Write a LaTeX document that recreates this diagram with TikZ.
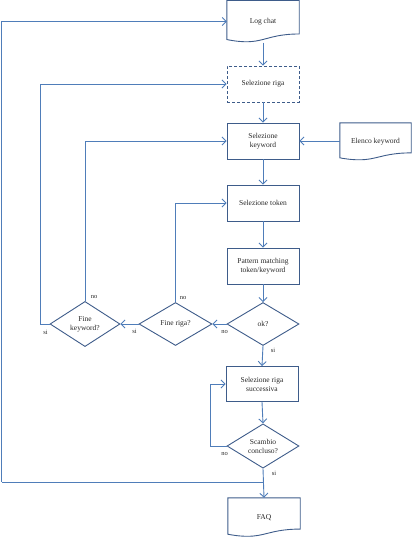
\documentclass[tikz,border=0pt]{standalone}
\usepackage{fontspec}
\setmainfont{Liberation Serif}
\usetikzlibrary{shapes.geometric,arrows.meta,calc}
\definecolor{lineblue}{RGB}{79,125,185}
\definecolor{boxblue}{RGB}{62,92,138}
\definecolor{txt}{RGB}{40,40,40}
\tikzset{
  box/.style={draw=boxblue, line width=0.9pt, rectangle, minimum width=72pt, minimum height=36pt, inner sep=1pt, align=center, font=\fontsize{7.5}{9}\selectfont, text=txt},
  dec/.style={draw=boxblue, line width=0.9pt, diamond, minimum width=72pt, minimum height=43pt, inner sep=0pt, align=center, font=\fontsize{7.5}{9}\selectfont, text=txt},
  docnode/.style={rectangle, inner sep=1pt, align=center, font=\fontsize{7.5}{9}\selectfont, text=txt},
  docline/.style={draw=boxblue, line width=0.9pt},
  conn/.style={draw=lineblue, line width=0.9pt, -{Straight Barb[length=4pt,width=8pt]}},
  plain/.style={draw=lineblue, line width=0.9pt},
  lbl/.style={font=\fontsize{6.5}{7}\selectfont, text=txt, inner sep=0pt}
}
\newcommand\docshape[2]{% name, height
  \draw[docline] (#1.north west) -- (#1.north east)
    -- ($(#1.north east)+(0,0.802*#2)$)
    .. controls ($(#1.north west)!0.5!(#1.north east)+(0,0.802*#2)$) and ($(#1.north west)!0.5!(#1.north east)+(0,1.107*#2)$)
    .. ($(#1.north west)+(0,0.934*#2)$) -- cycle;}
\begin{document}
\begin{tikzpicture}[x=1pt,y=-1pt]
\useasboundingbox (0,0) rectangle (413,542);
% document shapes
\node[docnode, minimum width=72pt, minimum height=42pt] (log) at (263,21.5) {\raisebox{2pt}{Log chat}};
\docshape{log}{42}
\node[docnode, minimum width=71pt, minimum height=37.5pt] (elenco) at (375.5,141.75) {\raisebox{2pt}{Elenco keyword}};
\docshape{elenco}{37.5}
\node[docnode, minimum width=72pt, minimum height=39pt] (faq) at (264,517.5) {FAQ};
\docshape{faq}{39}
% process boxes
\node[box, dash pattern=on 3pt off 2pt] (riga) at (263,84) {Selezione riga};
\node[box] (kw) at (263,141) {Selezione\\keyword};
\node[box] (token) at (263,203) {Selezione token};
\node[box] (pattern) at (263,266) {Pattern matching\\token/keyword};
\node[dec] (ok) at (263,324) {ok?};
\node[dec, minimum width=73pt] (fr) at (175.5,324) {Fine riga?};
\node[dec, minimum width=70pt] (fk) at (85,324) {Fine\\keyword?};
\node[box, minimum height=35pt] (succ) at (262,384) {Selezione riga\\successiva};
\node[dec, minimum height=44pt] (sc) at (263,446) {Scambio\\concluso?};
\coordinate (j) at (263,482);
\coordinate (c1) at (1.5,482);
% connectors
\draw[conn] (log.south) -- (riga.north);
\draw[conn] (riga.south) -- (kw.north);
\draw[conn] (elenco.west |- kw.east) -- (kw.east);
\draw[conn] (kw.south) -- (token.north);
\draw[conn] (token.south) -- (pattern.north);
\draw[conn] (pattern.south) -- (ok.north);
\draw[conn] (ok.west) -- (fr.east);
\draw[conn] (fr.west) -- (fk.east);
\draw[conn] (fr.north) |- (token.west);
\draw[conn] (fk.north) |- (kw.west);
\draw[conn] (fk.west) -- ++(-9,0) |- (riga.west);
\draw[conn] (ok.south) -- (succ.north);
\draw[conn] (succ.south) -- (sc.north);
\draw[conn] (sc.west) -- ++(-16,0) |- (succ.west);
\draw[conn] (sc.south) -- (faq.north);
\draw[plain] (j) -- (c1);
\draw[conn] (c1) |- (log.west);
% labels
\node[lbl] at ($(ok.west)+(-2,8)$) {no};
\node[lbl] at ($(fr.west)+(-4,7)$) {si};
\node[lbl] at ($(fr.north)+(7.5,-4)$) {no};
\node[lbl] at ($(fk.north)+(9,-4)$) {no};
\node[lbl] at ($(fk.west)+(-4,8)$) {si};
\node[lbl] at ($(ok.south)+(10,4)$) {si};
\node[lbl] at ($(sc.west)+(-2,8)$) {no};
\node[lbl] at ($(sc.south)+(11,5)$) {si};
\end{tikzpicture}
\end{document}
